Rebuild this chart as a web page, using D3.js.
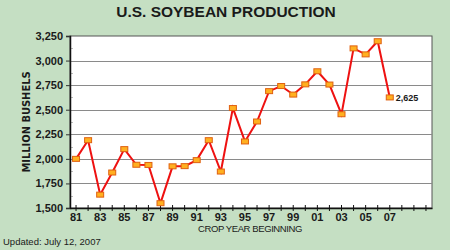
<!DOCTYPE html>
<html lang="en">
<head>
<meta charset="UTF-8">
<script src="https://d3js.org/d3.v7.min.js"></script>
<style>
  body { margin: 0; overflow: hidden; background: #c5dfc3; }
  text { font-family: "Liberation Sans", Arial, sans-serif; fill: #1a1a1a; }
</style>
</head>
<body>
<script>
const years = d3.range(1981, 2011);
const dataYears = d3.range(1981, 2008);
const production = [2000, 2190, 1636, 1861, 2099, 1940, 1938, 1549, 1924, 1926,
                    1987, 2190, 1871, 2517, 2177, 2380, 2689, 2741, 2654, 2758,
                    2891, 2756, 2454, 3124, 3063, 3197, 2625];
const yTicks = [1500, 1750, 2000, 2250, 2500, 2750, 3000, 3250];
const tickLabelYears = d3.range(1981, 2008, 2);

const width = 450, height = 250;
const margin = { top: 36, right: 18, bottom: 42, left: 70 };

const svg = d3.select('body').append('svg')
  .attr('width', width).attr('height', height);

svg.append('rect').attr('width', width).attr('height', height).attr('fill', '#c5dfc3');

const x = d3.scaleBand()
  .domain(years)
  .range([margin.left, width - margin.right]);

const y = d3.scaleLinear()
  .domain([1500, 3250])
  .range([height - margin.bottom, margin.top]);

// plot area
svg.append('rect')
  .attr('x', margin.left).attr('y', margin.top)
  .attr('width', width - margin.left - margin.right)
  .attr('height', height - margin.top - margin.bottom)
  .attr('fill', 'white')
  .attr('stroke', '#555').attr('stroke-width', 1);

// gridlines
svg.append('g').selectAll('line')
  .data(yTicks.slice(1, -1))
  .join('line')
  .attr('x1', margin.left).attr('x2', width - margin.right)
  .attr('y1', d => Math.round(y(d)) + 0.5).attr('y2', d => Math.round(y(d)) + 0.5)
  .attr('stroke', '#8a8a8a').attr('stroke-width', 1);

// minor ticks between gridlines
svg.append('g').selectAll('line')
  .data(yTicks.slice(0, -1).map(d => d + 125))
  .join('line')
  .attr('x1', margin.left).attr('x2', margin.left + 3)
  .attr('y1', d => Math.round(y(d)) + 0.5).attr('y2', d => Math.round(y(d)) + 0.5)
  .attr('stroke', '#bbb');

// y axis
const yAxis = d3.axisLeft(y).tickValues(yTicks).tickFormat(d3.format(',')).tickSize(4);
const yg = svg.append('g')
  .attr('transform', `translate(${margin.left},0)`)
  .call(yAxis);
yg.select('.domain').attr('stroke', '#111').attr('stroke-width', 1.5);
yg.selectAll('.tick line').attr('stroke', '#333');
yg.selectAll('.tick text')
  .attr('x', -7)
  .style('font-size', '11px').style('font-weight', 'bold');

// x axis
const xAxis = d3.axisBottom(x)
  .tickFormat(d => tickLabelYears.includes(d) ? String(d).slice(2) : '')
  .tickSize(4).tickSizeOuter(0);
const xg = svg.append('g')
  .attr('transform', `translate(0,${height - margin.bottom})`)
  .call(xAxis);
xg.select('.domain').attr('stroke', '#111').attr('stroke-width', 1.5);
xg.selectAll('.tick line').attr('stroke', '#111').attr('y1', -3).attr('y2', 3);
xg.selectAll('.tick text')
  .attr('y', 5)
  .style('font-size', '11px').style('font-weight', 'bold');

// line
const pts = dataYears.map((yr, i) => ({ year: yr, value: production[i] }));
const line = d3.line()
  .x(d => x(d.year) + x.bandwidth() / 2)
  .y(d => y(d.value));

svg.append('path')
  .datum(pts)
  .attr('d', line)
  .attr('fill', 'none')
  .attr('stroke', '#ee1111')
  .attr('stroke-width', 2);

svg.selectAll('.marker')
  .data(pts)
  .join('rect')
  .attr('class', 'marker')
  .attr('x', d => x(d.year) + x.bandwidth() / 2 - 3.5)
  .attr('y', d => y(d.value) - 2.5)
  .attr('width', 7).attr('height', 5)
  .attr('fill', '#ffb020')
  .attr('stroke', '#e06010').attr('stroke-width', 1);

// last value label
const last = pts[pts.length - 1];
svg.append('text')
  .attr('x', x(last.year) + x.bandwidth() / 2 + 6)
  .attr('y', y(last.value) + 3.5)
  .style('font-size', '9px').style('font-weight', 'bold')
  .text(d3.format(',')(last.value));

// title
svg.append('text')
  .attr('x', 226).attr('y', 17)
  .attr('text-anchor', 'middle')
  .style('font-size', '15.5px').style('font-weight', 'bold')
  .text('U.S. SOYBEAN PRODUCTION');

// axis titles
svg.append('text')
  .attr('transform', `translate(30,${(margin.top + height - margin.bottom) / 2}) rotate(-90)`)
  .attr('text-anchor', 'middle')
  .style('font-family', '"DejaVu Sans Condensed", "Liberation Sans", sans-serif')
  .style('font-stretch', 'condensed')
  .style('font-size', '11px').style('font-weight', 'bold')
  .text('MILLION BUSHELS');

svg.append('text')
  .attr('x', 250).attr('y', 232)
  .attr('text-anchor', 'middle')
  .style('font-size', '9.5px')
  .style('letter-spacing', '-0.4px')
  .text('CROP YEAR BEGINNING');

svg.append('text')
  .attr('x', 3).attr('y', 245)
  .style('font-size', '9.5px')
  .text('Updated: July 12, 2007');
</script>
</body>
</html>
